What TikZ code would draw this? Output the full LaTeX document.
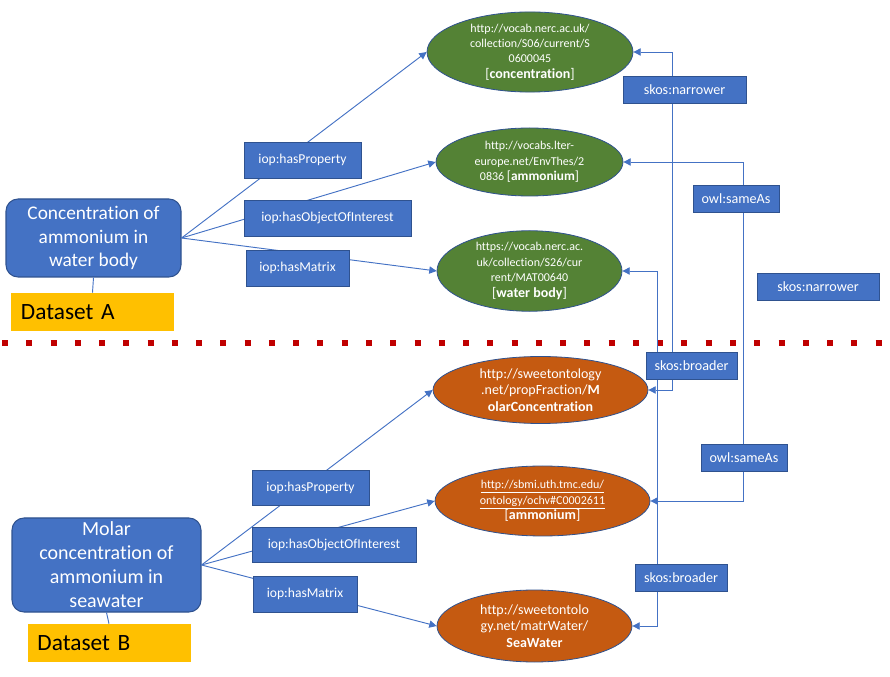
\documentclass[tikz,border=0pt]{standalone}
\usepackage{fontspec}
\setmainfont[Ligatures={NoCommon}]{Carlito}
\usepackage{tikz}
\usetikzlibrary{shapes.geometric, arrows.meta, positioning}

\definecolor{boxblue}{HTML}{4472C4}
\definecolor{boxedge}{HTML}{2F528F}
\definecolor{termgreen}{HTML}{548235}
\definecolor{termorange}{HTML}{C55A11}
\definecolor{setyellow}{HTML}{FFC000}
\definecolor{cutred}{HTML}{C00000}

\begin{document}
\begin{tikzpicture}[x=0.75pt,y=-0.75pt]
\tikzset{
    dataset/.style={rectangle, rounded corners=9pt, fill=boxblue, draw=boxedge,
        line width=0.8pt, text=white, align=center, inner sep=0pt,
        font=\fontsize{14.5}{17.5}\selectfont},
    setlabel/.style={rectangle, fill=setyellow, minimum height=28.5pt,
        inner xsep=7.5pt, text width=107.25pt, align=left,
        font=\fontsize{17.5}{20}\selectfont},
    term/.style={ellipse, draw=boxedge, line width=0.6pt, inner sep=0pt,
        text=white, align=center, font=\fontsize{9}{11.6}\selectfont},
    relation/.style={rectangle, fill=boxblue, draw=boxedge, line width=0.6pt,
        text=white, inner sep=0pt, minimum height=27pt,
        font=\fontsize{10.2}{12}\selectfont},
    mapping/.style={relation, minimum height=20.25pt,
        font=\fontsize{10.6}{12}\selectfont},
    conn/.style={draw=boxblue, line width=0.7pt},
    conn arrow/.style={conn, -{Triangle[length=5.5pt,width=5.5pt]}},
    conn both/.style={conn, {Triangle[length=5.5pt,width=5.5pt]}-{Triangle[length=5.5pt,width=5.5pt]}},
    cutline/.style={draw=cutred, line width=4.5pt, dash pattern=on 4.5pt off 13.7pt}
}
\useasboundingbox (0,0) rectangle (890,677);

% Datasets
\node[dataset, minimum width=131.25pt, minimum height=58.5pt] (conca) at (93.5,238)
    {Concentration of\\ammonium in\\water body};
\node[setlabel] (seta) at (92.5,312) {Dataset A};
\node[dataset, minimum width=141.75pt, minimum height=70.5pt,
      font=\fontsize{15}{18}\selectfont] (concb) at (106.5,565)
    {Molar\\concentration of\\ammonium in\\seawater};
\node[setlabel] (setb) at (109,643) {Dataset B};

\draw[conn] (conca.south) -- (seta.north);
\draw[conn] (concb.south) -- (setb.north);

% Vocabulary terms
\node[term, fill=termgreen, minimum width=154.5pt, minimum height=48pt] (s06) at (530,52)
    {http://vocab.nerc.ac.uk/\\collection/S06/current/S\\0600045\\
     {\fontsize{10.5}{12}\selectfont[\textbf{concentration}]}};
\node[term, fill=termgreen, minimum width=140.25pt, minimum height=51pt] (lter) at (529.5,162)
    {http://vocabs.lter-\\europe.net/EnvThes/2\\
     0836 {\fontsize{10}{12}\selectfont[\textbf{ammonium}]}};
\node[term, fill=termgreen, minimum width=138.75pt, minimum height=54pt] (mat) at (529.5,271)
    {https://vocab.nerc.ac.\\uk/collection/S26/cur\\rent/MAT00640\\
     {\fontsize{10.5}{12}\selectfont[\textbf{water body}]}};

\node[term, fill=termorange, minimum width=161.25pt, minimum height=50.25pt,
      font=\fontsize{10.5}{12.5}\selectfont] (molar) at (540.5,390)
    {http://sweetontology\\.net/propFraction/\textbf{M}\\\textbf{olarConcentration}};
\node[term, fill=termorange, minimum width=161.25pt, minimum height=52.5pt] (ochv) at (542.5,501)
    {\underline{http://sbmi.uth.tmc.edu/}\\\underline{ontology/ochv\#C0002611}\\
     {\fontsize{10.5}{12.5}\selectfont[\textbf{ammonium}]}};
\node[term, fill=termorange, minimum width=146.25pt, minimum height=54pt,
      font=\fontsize{10.5}{12.5}\selectfont] (sea) at (534.5,626)
    {http://sweetontolo\\gy.net/matrWater/\\\textbf{SeaWater}};

% Border between the datasets
\draw[cutline] (2,343) -- (890,343);

% Connectors
\draw[conn arrow] (conca.east) -- (s06.west);
\draw[conn arrow] (conca.east) -- (lter.west);
\draw[conn arrow] (conca.east) -- (mat.west);
\draw[conn arrow] (concb.east) -- (molar.west);
\draw[conn arrow] (concb.east) -- (ochv.west);
\draw[conn arrow] (concb.east) -- (sea.west);

\draw[conn both] (s06.east) -- ++(39,0) |- (molar.east);
\draw[conn both] (mat.east) -- ++(35,0) |- (sea.east);
\draw[conn both] (lter.east) -- ++(120,0) |- (ochv.east);

% Relations
\node[relation, minimum width=87.75pt] (propa) at (302.5,160) {iop:hasProperty};
\node[relation, minimum width=125.25pt] (obja) at (327.5,218) {iop:hasObjectOfInterest};
\node[relation, minimum width=77.25pt] (mata) at (297.5,268) {iop:hasMatrix};
\node[relation, minimum width=87.75pt, minimum height=26.25pt] (propb) at (310.5,487.5) {iop:hasProperty};
\node[relation, minimum width=123pt, minimum height=26.25pt] (objb) at (334,544.5) {iop:hasObjectOfInterest};
\node[relation, minimum width=78pt] (matb) at (305,594) {iop:hasMatrix};

\node[mapping, minimum width=92.25pt] (narrowa) at (684.5,90) {skos:narrower};
\node[mapping, minimum width=64.5pt] (samea) at (736,198.5) {owl:sameAs};
\node[mapping, minimum width=91.5pt] (narrowb) at (818,286.5) {skos:narrower};
\node[mapping, minimum width=68.25pt] (broada) at (691.5,365.5) {skos:broader};
\node[mapping, minimum width=64.5pt] (sameb) at (744,457.5) {owl:sameAs};
\node[mapping, minimum width=69pt] (broadb) at (681,577.5) {skos:broader};

\end{tikzpicture}
\end{document}
